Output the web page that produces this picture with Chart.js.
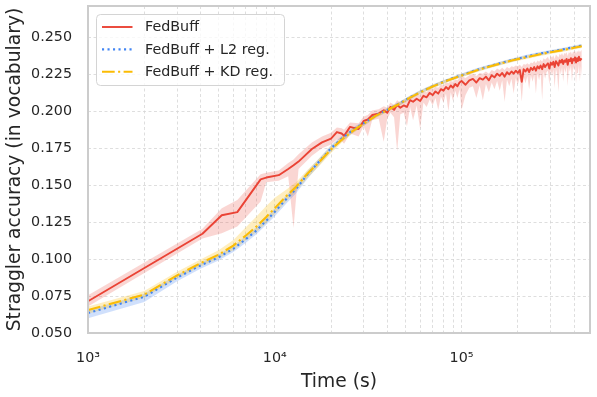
<!DOCTYPE html>
<html><head><meta charset="utf-8">
<script src="https://cdn.jsdelivr.net/npm/chart.js@4.4.1/dist/chart.umd.min.js"></script>
<style>html,body{margin:0;padding:0;background:#fff}#wrap{width:597px;height:397px;position:relative}</style>
</head><body><div id="wrap"><canvas id="c" width="597" height="397"></canvas></div>
<script>
// ---- data ----
const seriesNames = ['FedBuff', 'FedBuff + L2 reg.', 'FedBuff + KD reg.'];

const fedbuffTime = [1000, 4100, 5200, 6300, 8400, 9000, 10500, 11800, 12600, 13400,
 15800, 17900, 20000, 21500, 22800, 23500, 25300, 28100, 29900, 31500,
 33200, 36000, 38300, 40000, 41600, 43500, 45200, 47000, 49000, 51000,
 53000,
 55000, 57500, 60000, 62500, 65000, 67500, 70000, 72500, 75000, 77500, 80000, 82500, 85000, 87500, 90000, 92500, 95000, 97500,
 100000, 105000, 110000, 115000, 120000, 125000, 130000, 135000, 140000, 145000,
 150000, 155000, 160000, 165000, 170000, 175000, 180000, 185000, 190000, 195000,
 200000, 205000, 210000, 215000, 220000, 225000, 230000, 235000, 240000, 245000,
 250000, 255000, 260000, 265000, 270000, 275000, 280000, 285000, 290000, 295000,
 300000, 305000, 310000, 315000, 320000, 325000, 330000, 335000, 340000, 345000,
 350000, 355000, 360000, 365000, 370000, 375000, 380000, 385000, 390000, 395000,
 400000, 405000, 410000, 415000, 420000, 425000, 430000, 435000, 440000];
const fedbuffMean = [0.0715, 0.1172, 0.1297, 0.1318, 0.1540, 0.1552, 0.1568, 0.1610, 0.1635, 0.1660,
 0.1745, 0.1790, 0.1815, 0.1860, 0.1850, 0.1835, 0.1895, 0.1880, 0.1935, 0.1945,
 0.1975, 0.1985, 0.2008, 0.1990, 0.2030, 0.2010, 0.2043, 0.2025, 0.2040, 0.2030,
 0.2076,
 0.2065, 0.2085, 0.2070, 0.2105, 0.2095, 0.2125, 0.2110, 0.2135, 0.2120, 0.2150, 0.2140, 0.2165, 0.2150, 0.2175, 0.2160, 0.2185, 0.2170, 0.2195,
 0.2205, 0.2180, 0.2210, 0.2220, 0.2195, 0.2225, 0.2215, 0.2235, 0.2210, 0.2245,
 0.2230, 0.2255, 0.2240, 0.2260, 0.2235, 0.2265, 0.2250, 0.2270, 0.2255, 0.2275,
 0.2260, 0.2280, 0.2200, 0.2285, 0.2270, 0.2290, 0.2265, 0.2295, 0.2280, 0.2300,
 0.2275, 0.2305, 0.2290, 0.2310, 0.2285, 0.2320, 0.2300, 0.2315, 0.2325, 0.2290,
 0.2330, 0.2315, 0.2335, 0.2300, 0.2340, 0.2325, 0.2310, 0.2345, 0.2330, 0.2350,
 0.2320, 0.2345, 0.2335, 0.2355, 0.2315, 0.2350, 0.2340, 0.2360, 0.2325, 0.2355,
 0.2345, 0.2365, 0.2330, 0.2360, 0.2340, 0.2370, 0.2345, 0.2355, 0.2350];
const fedbuffLow = [0.0680, 0.1140, 0.1175, 0.1220, 0.1390, 0.1520, 0.1530, 0.1560, 0.1210, 0.1610,
 0.1700, 0.1750, 0.1775, 0.1810, 0.1800, 0.1780, 0.1850, 0.1830, 0.1900, 0.1830,
 0.1940, 0.1950, 0.1795, 0.1950, 0.1990, 0.1960, 0.1730, 0.1980, 0.1990, 0.1900,
 0.2030,
 0.1940, 0.2040, 0.1880, 0.2060, 0.2030, 0.2080, 0.2040, 0.2090, 0.2010, 0.2100, 0.2060, 0.2120, 0.2000, 0.2130, 0.2070, 0.2140, 0.2090, 0.2150,
 0.2010, 0.2110, 0.2160, 0.2170, 0.2090, 0.2175, 0.2075, 0.2185, 0.2130, 0.2195,
 0.2150, 0.2205, 0.2140, 0.2210, 0.2065, 0.2215, 0.2170, 0.2220, 0.2120, 0.2225,
 0.2180, 0.2230, 0.2065, 0.2235, 0.2190, 0.2240, 0.2150, 0.2245, 0.2200, 0.2250,
 0.2120, 0.2255, 0.2210, 0.2260, 0.2077, 0.2270, 0.2220, 0.2265, 0.2275, 0.2180,
 0.2280, 0.2240, 0.2285, 0.2160, 0.2290, 0.2250, 0.2133, 0.2295, 0.2250, 0.2300,
 0.2200, 0.2295, 0.2260, 0.2305, 0.2170, 0.2300, 0.2270, 0.2310, 0.2200, 0.2305,
 0.2280, 0.2315, 0.2190, 0.2310, 0.2260, 0.2320, 0.2200, 0.2305, 0.2240];
const fedbuffHigh = [0.0755, 0.1205, 0.1345, 0.1400, 0.1575, 0.1585, 0.1600, 0.1650, 0.1675, 0.1710,
 0.1790, 0.1830, 0.1855, 0.1890, 0.1885, 0.1875, 0.1925, 0.1920, 0.1965, 0.1975,
 0.2005, 0.2015, 0.2035, 0.2025, 0.2060, 0.2045, 0.2075, 0.2060, 0.2075, 0.2070,
 0.2105,
 0.2100, 0.2115, 0.2110, 0.2135, 0.2130, 0.2155, 0.2150, 0.2165, 0.2160, 0.2180, 0.2175, 0.2195, 0.2190, 0.2205, 0.2200, 0.2215, 0.2210, 0.2225,
 0.2240, 0.2225, 0.2245, 0.2255, 0.2240, 0.2260, 0.2255, 0.2270, 0.2255, 0.2280,
 0.2270, 0.2290, 0.2280, 0.2295, 0.2280, 0.2300, 0.2290, 0.2305, 0.2300, 0.2310,
 0.2305, 0.2315, 0.2300, 0.2320, 0.2315, 0.2325, 0.2315, 0.2330, 0.2325, 0.2340,
 0.2325, 0.2345, 0.2335, 0.2350, 0.2335, 0.2360, 0.2350, 0.2360, 0.2370, 0.2345,
 0.2375, 0.2365, 0.2380, 0.2355, 0.2385, 0.2375, 0.2365, 0.2390, 0.2380, 0.2395,
 0.2375, 0.2395, 0.2390, 0.2400, 0.2375, 0.2400, 0.2395, 0.2405, 0.2385, 0.2405,
 0.2400, 0.2410, 0.2390, 0.2410, 0.2400, 0.2415, 0.2400, 0.2410, 0.2415];

const smoothTime = [1000, 2000, 3000, 4000, 5000, 6000, 7000, 8000, 9000, 10000,
 11500, 13000, 15000, 17000, 20000, 23000, 26000, 30000, 35000, 40000,
 46000, 53000, 60000, 70000, 80000, 90000, 100000, 120000, 140000, 160000,
 190000, 220000, 260000, 300000, 350000, 400000, 440000];
const l2Mean = [0.0635, 0.0745, 0.0875, 0.0957, 0.1012, 0.1070, 0.1135, 0.1195, 0.1260, 0.1320,
 0.1405, 0.1475, 0.1575, 0.1650, 0.1750, 0.1820, 0.1870, 0.1920, 0.1975, 0.2010,
 0.2050, 0.2095, 0.2130, 0.2170, 0.2200, 0.2225, 0.2245, 0.2280, 0.2305, 0.2325,
 0.2350, 0.2370, 0.2390, 0.2405, 0.2420, 0.2435, 0.2445];
const l2Low = [0.0600, 0.0710, 0.0850, 0.0935, 0.0990, 0.1048, 0.1110, 0.1170, 0.1232, 0.1290,
 0.1375, 0.1445, 0.1545, 0.1625, 0.1728, 0.1800, 0.1852, 0.1903, 0.1960, 0.1996,
 0.2037, 0.2082, 0.2117, 0.2158, 0.2188, 0.2213, 0.2233, 0.2268, 0.2293, 0.2313,
 0.2338, 0.2358, 0.2378, 0.2393, 0.2408, 0.2423, 0.2433];
const l2High = [0.0655, 0.0765, 0.0895, 0.0975, 0.1032, 0.1090, 0.1157, 0.1218, 0.1285, 0.1345,
 0.1430, 0.1500, 0.1598, 0.1672, 0.1770, 0.1838, 0.1887, 0.1936, 0.1989, 0.2023,
 0.2062, 0.2107, 0.2142, 0.2181, 0.2211, 0.2236, 0.2256, 0.2291, 0.2316, 0.2336,
 0.2361, 0.2381, 0.2401, 0.2416, 0.2431, 0.2446, 0.2456];
const kdMean = [0.0655, 0.0760, 0.0890, 0.0972, 0.1030, 0.1092, 0.1160, 0.1222, 0.1285, 0.1345,
 0.1425, 0.1490, 0.1580, 0.1648, 0.1742, 0.1812, 0.1865, 0.1918, 0.1973, 0.2008,
 0.2048, 0.2093, 0.2128, 0.2168, 0.2198, 0.2222, 0.2242, 0.2277, 0.2302, 0.2322,
 0.2347, 0.2365, 0.2385, 0.2400, 0.2415, 0.2430, 0.2440];
const kdLow = [0.0630, 0.0738, 0.0868, 0.0950, 0.1005, 0.1062, 0.1128, 0.1185, 0.1245, 0.1305,
 0.1390, 0.1460, 0.1550, 0.1620, 0.1718, 0.1792, 0.1848, 0.1903, 0.1959, 0.1995,
 0.2035, 0.2080, 0.2115, 0.2155, 0.2185, 0.2210, 0.2230, 0.2265, 0.2290, 0.2310,
 0.2335, 0.2353, 0.2373, 0.2388, 0.2403, 0.2418, 0.2428];
const kdHigh = [0.0680, 0.0785, 0.0915, 0.0998, 0.1060, 0.1130, 0.1215, 0.1290, 0.1360, 0.1415,
 0.1470, 0.1520, 0.1605, 0.1672, 0.1765, 0.1832, 0.1882, 0.1933, 0.1987, 0.2021,
 0.2061, 0.2106, 0.2141, 0.2181, 0.2211, 0.2234, 0.2254, 0.2289, 0.2314, 0.2334,
 0.2359, 0.2377, 0.2397, 0.2412, 0.2427, 0.2442, 0.2452];

const xTickValues = [1000, 2000, 3000, 4000, 5000, 6000, 7000, 8000, 9000,
 10000, 20000, 30000, 40000, 50000, 60000, 70000, 80000, 90000,
 100000, 200000, 300000, 400000];
const xTickLabels = {1000: '10³', 10000: '10⁴', 100000: '10⁵'};
const yTickValues = [0.05, 0.075, 0.1, 0.125, 0.15, 0.175, 0.2, 0.225, 0.25];

// ---- chart ----
const RED = '#EA4335', BLUE = '#4285F4', YELLOW = '#FBBC04';
const TXT = '#262626';
const FONT = 'DejaVu Sans';
Chart.defaults.font.family = FONT;
Chart.defaults.color = TXT;

const pts = (xs, ys) => xs.map((x, i) => ({x: x, y: ys[i]}));
const band = (xs, ys, o, fill, bg) => ({
  label: '_band', data: pts(xs, ys), borderWidth: 0, borderColor: 'rgba(0,0,0,0)',
  pointRadius: 0, fill: fill, backgroundColor: bg, order: o, tension: 0
});

const legendItems = [
  {label: seriesNames[0], color: RED, width: 1.9, dash: []},
  {label: seriesNames[1], color: BLUE, width: 2.1, dash: [2.1, 3.4]},
  {label: seriesNames[2], color: YELLOW, width: 2.1, dash: [12.7, 3.4, 2.1, 3.4]}
];

const framePlugin = {
  id: 'frameAndLegend',
  afterDraw(chart) {
    const ctx = chart.ctx, a = chart.chartArea;
    ctx.save();
    ctx.strokeStyle = '#cccccc';
    ctx.lineWidth = 2;
    ctx.setLineDash([]);
    ctx.strokeRect(a.left, a.top, a.right - a.left, a.bottom - a.top);
    // legend
    const bx = 96.5, by = 14.5, bw = 188, bh = 71;
    ctx.beginPath();
    ctx.roundRect(bx, by, bw, bh, 4);
    ctx.fillStyle = 'rgba(255,255,255,0.8)';
    ctx.fill();
    ctx.strokeStyle = '#d4d4d4';
    ctx.lineWidth = 1;
    ctx.stroke();
    legendItems.forEach((it, i) => {
      const y = 27 + i * 22.4;
      ctx.beginPath();
      ctx.setLineDash(it.dash);
      ctx.strokeStyle = it.color;
      ctx.lineWidth = it.width;
      ctx.lineCap = 'butt';
      ctx.moveTo(102, y);
      ctx.lineTo(132.5, y);
      ctx.stroke();
      ctx.setLineDash([]);
      ctx.fillStyle = TXT;
      ctx.font = '14.3px "' + FONT + '"';
      ctx.textBaseline = 'middle';
      ctx.textAlign = 'left';
      ctx.fillText(it.label, 145, y + 0.5);
    });
    ctx.restore();
  }
};

new Chart(document.getElementById('c'), {
  type: 'line',
  data: {
    datasets: [
      band(fedbuffTime, fedbuffLow, 30, false, 'rgba(0,0,0,0)'),
      band(fedbuffTime, fedbuffHigh, 29, '-1', 'rgba(234,67,53,0.22)'),
      band(smoothTime, l2Low, 28, false, 'rgba(0,0,0,0)'),
      band(smoothTime, l2High, 27, '-1', 'rgba(66,133,244,0.25)'),
      band(smoothTime, kdLow, 26, false, 'rgba(0,0,0,0)'),
      band(smoothTime, kdHigh, 25, '-1', 'rgba(251,188,4,0.25)'),
      {label: seriesNames[0], data: pts(fedbuffTime, fedbuffMean), borderColor: RED, borderWidth: 1.9,
       pointRadius: 0, fill: false, order: 3, tension: 0, borderJoinStyle: 'round'},
      {label: seriesNames[1], data: pts(smoothTime, l2Mean), borderColor: BLUE, borderWidth: 2.1,
       borderDash: [2.1, 3.4], pointRadius: 0, fill: false, order: 2, tension: 0},
      {label: seriesNames[2], data: pts(smoothTime, kdMean), borderColor: YELLOW, borderWidth: 2.1,
       borderDash: [12.7, 3.4, 2.1, 3.4], pointRadius: 0, fill: false, order: 1, tension: 0}
    ]
  },
  options: {
    responsive: false,
    animation: false,
    devicePixelRatio: 1,
    events: [],
    layout: {padding: {top: 6, right: 7, left: 0, bottom: 0}},
    plugins: {legend: {display: false}, tooltip: {enabled: false}, title: {display: false}},
    scales: {
      x: {
        type: 'logarithmic', min: 1000, max: 487000,
        afterBuildTicks: s => { s.ticks = xTickValues.map(v => ({value: v})); },
        afterFit: s => { s.height = 64; s.paddingLeft = 0; s.paddingRight = 0; },
        ticks: {autoSkip: false, maxRotation: 0, padding: 17, color: TXT,
                font: {size: 14.3, family: FONT},
                callback: v => xTickLabels[v] || ''},
        grid: {color: '#d6d6d6', lineWidth: 0.8, drawTicks: false},
        border: {display: false, dash: [3, 2.5]},
        title: {display: true, text: 'Time (s)', color: TXT, font: {size: 18.7, family: FONT, lineHeight: 1.2},
                padding: {top: 0, bottom: 4}}
      },
      y: {
        type: 'linear', min: 0.05, max: 0.2713,
        afterBuildTicks: s => { s.ticks = yTickValues.map(v => ({value: v})); },
        afterFit: s => { s.width = 88; s.paddingTop = 0; s.paddingBottom = 0; },
        ticks: {padding: 16, color: TXT, font: {size: 14.3, family: FONT},
                callback: v => Number(v).toFixed(3)},
        grid: {color: '#d6d6d6', lineWidth: 0.8, drawTicks: false},
        border: {display: false, dash: [3, 2.5]},
        title: {display: true, text: 'Straggler accuracy (in vocabulary)', color: TXT,
                font: {size: 18.7, family: FONT, lineHeight: 1.2}, padding: {top: 4, bottom: 0}}
      }
    }
  },
  plugins: [framePlugin]
});
</script>
</body></html>
